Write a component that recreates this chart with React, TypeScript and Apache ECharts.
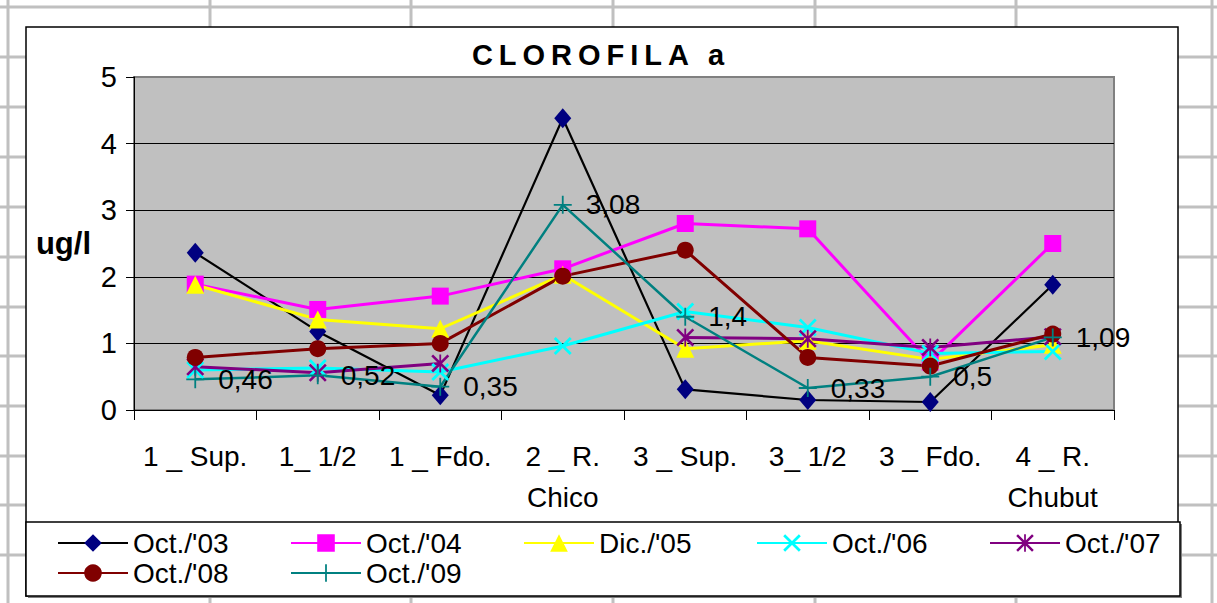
import React, { useEffect, useRef } from "react";
import * as echarts from "echarts";

const categories = ["1 _ Sup.", "1_ 1/2", "1 _ Fdo.", "2 _ R.\nChico", "3 _ Sup.", "3_ 1/2", "3 _ Fdo.", "4 _ R.\nChubut"];
const seriesNames = ["Oct./'03", "Oct./'04", "Dic./'05", "Oct./'06", "Oct./'07", "Oct./'08", "Oct./'09"];
const oct03 = [2.36, 1.18, 0.22, 4.38, 0.31, 0.15, 0.12, 1.88];
const oct04 = [1.89, 1.51, 1.71, 2.12, 2.8, 2.72, 0.72, 2.5];
const dic05 = [1.88, 1.36, 1.22, 2.03, 0.92, 1.04, 0.76, 0.98];
const oct06 = [0.6, 0.63, 0.57, 0.96, 1.48, 1.24, 0.85, 0.88];
const oct07 = [0.65, 0.56, 0.7, null, 1.09, 1.07, 0.94, 1.1];
const oct08 = [0.79, 0.92, 1.0, 2.01, 2.4, 0.79, 0.66, 1.14];
const oct09 = [0.46, 0.52, 0.35, 3.08, 1.4, 0.33, 0.5, 1.09];
const yMin = 0;
const yMax = 5;
const yStep = 1;

const FONT = "'Liberation Sans', Arial, sans-serif";
const TITLE_FONT = "'Liberation Sans', Arimo, sans-serif";

const X_PATH = "path://M0,2.2L2.2,0L20,17.8L17.8,20Z M17.8,0L20,2.2L2.2,20L0,17.8Z";
const STAR_PATH = "path://M0,2L2,0L20,18L18,20Z M18,0L20,2L2,20L0,18Z M9,0L11,0L11,20L9,20Z";
const PLUS_PATH = "path://M9,0L11,0L11,20L9,20Z M0,9L20,9L20,11L0,11Z";

function mk(name: string, data: (number | null)[], color: string, lineColor: string, symbol: string, symbolSize: number | number[], lineWidth: number, extra: any = {}) {
  return {
    name,
    type: "line",
    data,
    symbol,
    symbolSize,
    showAllSymbol: true,
    connectNulls: false,
    lineStyle: { color: lineColor, width: lineWidth },
    itemStyle: { color, borderWidth: 0 },
    emphasis: { disabled: true },
    ...extra,
  };
}

export default function App() {
  const ref = useRef<HTMLDivElement>(null);
  useEffect(() => {
    if (!ref.current) return;
    const chart = echarts.init(ref.current, null, { renderer: "svg" });

    const hLines = [7, 57, 107, 157, 207, 257, 307, 356, 406, 456, 505, 555];
    const vLines = [8, 210, 411, 613, 815, 1016, 1212];
    const graphics: any[] = [];
    hLines.forEach((y) =>
      graphics.push({ type: "line", z: -20, shape: { x1: 0, y1: y, x2: 1217, y2: y }, style: { stroke: "#C0C0C0", lineWidth: 3 } })
    );
    vLines.forEach((x) =>
      graphics.push({ type: "line", z: -20, shape: { x1: x, y1: 0, x2: x, y2: 603 }, style: { stroke: "#C0C0C0", lineWidth: 3 } })
    );
    graphics.push({ type: "rect", z: -10, shape: { x: 26, y: 27, width: 1152, height: 569 }, style: { fill: "#fff", stroke: "#000", lineWidth: 1.5 } });
    graphics.push({ type: "rect", z: -9, shape: { x: 28, y: 524, width: 1154, height: 74 }, style: { fill: "#808080", stroke: null } });
    graphics.push({ type: "rect", z: -8, shape: { x: 26, y: 522, width: 1154, height: 74 }, style: { fill: "#fff", stroke: "#000", lineWidth: 1.5 } });

    const labelFmt = (p: any) => String(p.value).replace(".", ",");

    chart.setOption({
      animation: false,
      backgroundColor: "#fff",
      title: {
        text: "CLOROFILA a",
        left: 601,
        top: 40,
        padding: 0,
        textAlign: "center",
        textStyle: { fontFamily: TITLE_FONT, fontWeight: "bold", fontSize: 29, lineHeight: 30, color: "#000" },
      },
      graphic: graphics,
      grid: {
        left: 134,
        top: 77,
        right: 103,
        bottom: 193,
        show: true,
        backgroundColor: "#C0C0C0",
        borderColor: "#808080",
        borderWidth: 2,
      },
      legend: {
        data: seriesNames,
        left: 57,
        top: 528,
        width: 1200,
        padding: 0,
        itemWidth: 70,
        itemHeight: 22,
        itemGap: 0,
        selectedMode: false,
        textStyle: { fontFamily: FONT, fontSize: 28, color: "#000", width: 157, lineHeight: 30 },
      },
      xAxis: {
        type: "category",
        data: categories,
        boundaryGap: true,
        axisLine: { show: true, lineStyle: { color: "#000", width: 1 } },
        axisTick: { show: true, length: 10, lineStyle: { color: "#000" } },
        axisLabel: { interval: 0, fontFamily: FONT, fontSize: 28, lineHeight: 41, margin: 26, color: "#000" },
        splitLine: { show: false },
      },
      yAxis: {
        type: "value",
        min: yMin,
        max: yMax,
        interval: yStep,
        name: "ug/l",
        nameLocation: "middle",
        nameRotate: 0,
        nameGap: 43,
        nameTextStyle: { fontFamily: FONT, fontWeight: "bold", fontSize: 31, color: "#000" },
        axisLine: { show: true, lineStyle: { color: "#000", width: 1 } },
        axisTick: { show: true, length: 8, lineStyle: { color: "#000" } },
        axisLabel: { fontFamily: FONT, fontSize: 29, margin: 17, color: "#000" },
        splitLine: { show: true, showMaxLine: false, lineStyle: { color: "#000", width: 1 } },
      },
      series: [
        mk(seriesNames[0], oct03, "#000080", "#000000", "diamond", [17, 20], 2.2),
        mk(seriesNames[1], oct04, "#FF00FF", "#FF00FF", "rect", 17, 3),
        mk(seriesNames[2], dic05, "#FFFF00", "#FFFF00", "triangle", 18, 3),
        mk(seriesNames[3], oct06, "#00FFFF", "#00FFFF", X_PATH, 18, 3),
        mk(seriesNames[4], oct07, "#800080", "#800080", STAR_PATH, 18, 3),
        mk(seriesNames[5], oct08, "#800000", "#800000", "circle", 17, 3),
        mk(seriesNames[6], oct09, "#008080", "#008080", PLUS_PATH, 18, 2.5, {
          label: {
            show: true,
            position: "right",
            distance: 14,
            formatter: labelFmt,
            fontFamily: FONT,
            fontSize: 28,
            color: "#000",
          },
        }),
      ],
    });
    return () => chart.dispose();
  }, []);
  return (
    <>
      <style>{`text[style*="Arimo"]{letter-spacing:6px;}`}</style>
      <div ref={ref} style={{ position: "absolute", left: 0, top: 0, width: 1217, height: 603 }} />
    </>
  );
}
